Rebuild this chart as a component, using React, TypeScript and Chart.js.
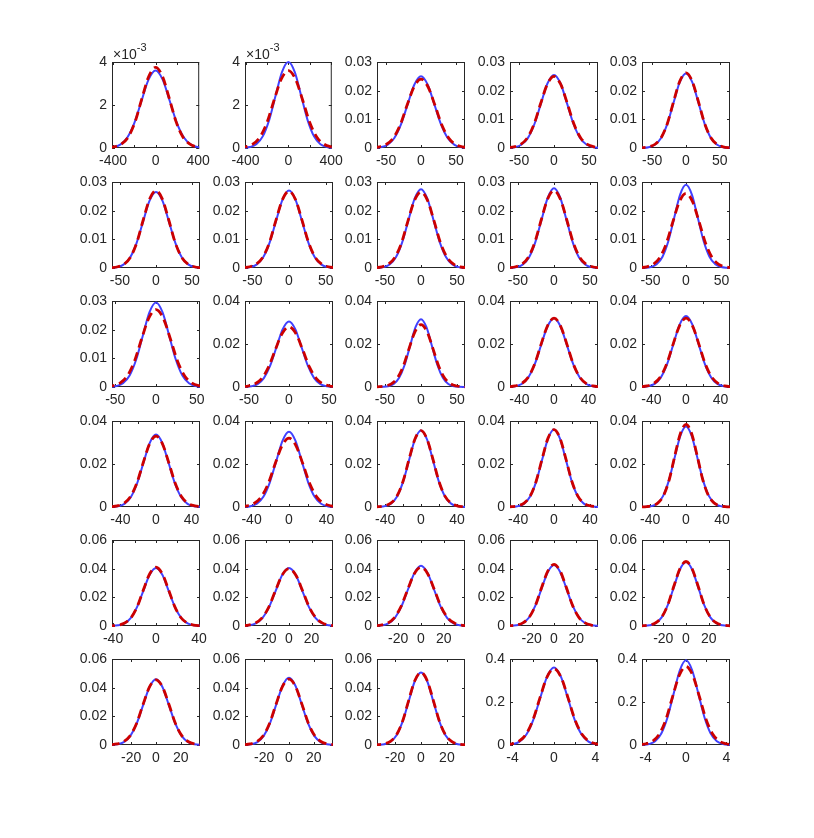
import React, { useEffect, useRef } from 'react';
import { Chart, registerables } from 'chart.js';
Chart.register(...registerables);

// standardized positions (in units of the panel's sd) at which the curves were read
const uSteps = [-5, -4.5, -4, -3.5, -3, -2.5, -2, -1.5, -1, -0.5, 0, 0.5, 1, 1.5, 2, 2.5, 3, 3.5, 4, 4.5, 5];
// normalized blue (fitted normal) profile
const blueProfile = [0, 0.00004, 0.00034, 0.0022, 0.0111, 0.0439, 0.1353, 0.3247, 0.6065, 0.8825, 1, 0.8825, 0.6065, 0.3247, 0.1353, 0.0439, 0.0111, 0.0022, 0.00034, 0.00004, 0];
// normalized red (kernel estimate) profile
const redProfile = [0, 0.0004, 0.0015, 0.005, 0.016, 0.05, 0.14, 0.33, 0.62, 0.89, 1, 0.89, 0.62, 0.33, 0.14, 0.05, 0.016, 0.005, 0.0015, 0.0004, 0];

// per panel (row-major, 6 rows x 5 columns)
const bluePeak = [
  0.0036, 0.0040, 0.025, 0.0255, 0.026,
  0.0265, 0.027, 0.0275, 0.0278, 0.029,
  0.0295, 0.0305, 0.0315, 0.032, 0.033,
  0.0337, 0.035, 0.0356, 0.036, 0.0374,
  0.0405, 0.0405, 0.042, 0.0425, 0.0447,
  0.0458, 0.047, 0.0506, 0.36, 0.394,
];
const redPeak = [
  0.00375, 0.0036, 0.024, 0.025, 0.0262,
  0.027, 0.0268, 0.0265, 0.027, 0.026,
  0.027, 0.028, 0.029, 0.032, 0.032,
  0.033, 0.032, 0.0355, 0.036, 0.0384,
  0.041, 0.040, 0.041, 0.043, 0.045,
  0.0455, 0.046, 0.0506, 0.355, 0.365,
];
// curve width (sd, in x units)
const blueSd = [
  133, 119.7, 19.2, 18.75, 18.4,
  18.05, 17.7, 17.4, 17.25, 16.55,
  16.2, 15.7, 15.15, 15.0, 14.55,
  14.2, 13.7, 13.4, 13.3, 12.8,
  11.8, 11.8, 11.4, 11.3, 10.7,
  10.4, 10.2, 9.45, 1.33, 1.22,
];
const xLimit = [
  410, 405, 63, 63, 65,
  61, 60, 61, 61, 62,
  54, 55, 61, 51, 51,
  49.5, 47, 49, 49, 49,
  41, 39, 38.5, 39.5, 38.7,
  35.5, 35.5, 34, 4.24, 4.35,
];
const yMax = [
  0.004, 0.004, 0.03, 0.03, 0.03,
  0.03, 0.03, 0.03, 0.03, 0.03,
  0.03, 0.04, 0.04, 0.04, 0.04,
  0.04, 0.04, 0.04, 0.04, 0.04,
  0.06, 0.06, 0.06, 0.06, 0.06,
  0.06, 0.06, 0.06, 0.4, 0.4,
];
const xTickKind = [
  'wide', 'wide', 'fifty', 'fifty', 'fifty',
  'fifty', 'fifty', 'fifty', 'fifty', 'fifty',
  'fifty', 'fifty', 'fifty', 'forty', 'forty',
  'forty', 'forty', 'forty', 'forty', 'forty',
  'forty', 'twenty', 'twenty', 'twenty', 'twenty',
  'twenty', 'twenty', 'twenty', 'four', 'four',
];
const xTicks: Record<string, number[]> = {
  wide: [-400, -200, 0, 200, 400],
  fifty: [-50, 0, 50],
  forty: [-40, -20, 0, 20, 40],
  twenty: [-20, 0, 20],
  four: [-4, -2, 0, 2, 4],
};
const xLabels: Record<string, number[]> = {
  wide: [-400, 0, 400],
  fifty: [-50, 0, 50],
  forty: [-40, 0, 40],
  twenty: [-20, 0, 20],
  four: [-4, 0, 4],
};
const yTicks: Record<string, number[]> = {
  '0.004': [0, 0.002, 0.004],
  '0.03': [0, 0.01, 0.02, 0.03],
  '0.04': [0, 0.02, 0.04],
  '0.06': [0, 0.02, 0.04, 0.06],
  '0.4': [0, 0.2, 0.4],
};
const yLabels: Record<string, string[]> = {
  '0.004': ['0', '2', '4'],
  '0.03': ['0', '0.01', '0.02', '0.03'],
  '0.04': ['0', '0.02', '0.04'],
  '0.06': ['0', '0.02', '0.04', '0.06'],
  '0.4': ['0', '0.2', '0.4'],
};

const colLeft = [112, 245, 377, 510, 642];
const rowTop = [62, 182, 301, 421, 540, 659];
const PW = 88;
const PH = 86;
const ML = 40, MR = 15, MT = 20, MB = 24;

const AXIS = '#262626';
const FONT = 'Liberation Sans, Arial, Helvetica, sans-serif';
const FS = 14;

function Panel({ idx }: { idx: number }) {
  const ref = useRef<HTMLCanvasElement>(null);
  useEffect(() => {
    const canvas = ref.current!;
    const kind = xTickKind[idx];
    const yKey = String(yMax[idx]);
    const xt = xTicks[kind];
    const xl = xLabels[kind];
    const yt = yTicks[yKey];
    const yl = yLabels[yKey];
    const sd = blueSd[idx];
    const sdRed = sd * bluePeak[idx] / redPeak[idx];
    const blueData = uSteps.map((u, k) => ({ x: u * sd, y: blueProfile[k] * bluePeak[idx] }));
    const redData = uSteps.map((u, k) => ({ x: u * sdRed, y: redProfile[k] * redPeak[idx] }));
    const showExp = yKey === '0.004';

    const boxPlugin = {
      id: 'box',
      beforeDatasetsDraw(chart: any) {
        const { ctx, chartArea: a, scales } = chart;
        ctx.save();
        ctx.strokeStyle = AXIS;
        ctx.lineWidth = 1;
        ctx.strokeRect(a.left + 0.5, a.top + 0.5, a.right - a.left - 1, a.bottom - a.top - 1);
        ctx.beginPath();
        const tl = 3;
        for (const v of xt) {
          const px = Math.round(scales.x.getPixelForValue(v)) + 0.5;
          ctx.moveTo(px, a.bottom);
          ctx.lineTo(px, a.bottom - tl);
          ctx.moveTo(px, a.top);
          ctx.lineTo(px, a.top + tl);
        }
        for (const v of yt) {
          const py = Math.round(scales.y.getPixelForValue(v)) + 0.5;
          ctx.moveTo(a.left, py);
          ctx.lineTo(a.left + tl, py);
          ctx.moveTo(a.right, py);
          ctx.lineTo(a.right - tl, py);
        }
        ctx.stroke();
        ctx.restore();
      },
      afterDraw(chart: any) {
        if (!showExp) return;
        const { ctx, chartArea: a } = chart;
        ctx.save();
        ctx.fillStyle = AXIS;
        ctx.textAlign = 'left';
        ctx.textBaseline = 'alphabetic';
        ctx.font = `14px ${FONT}`;
        ctx.fillText('\u00d710', a.left + 1, a.top - 3);
        const w = ctx.measureText('\u00d710').width;
        ctx.font = `11px ${FONT}`;
        ctx.fillText('-3', a.left + 1 + w, a.top - 11);
        ctx.restore();
      },
    };

    const chart = new Chart(canvas, {
      type: 'line',
      data: {
        datasets: [
          {
            data: redData,
            borderColor: '#cc0000',
            borderWidth: 2.8,
            borderDash: [9, 5],
            pointRadius: 0,
            fill: false,
            cubicInterpolationMode: 'monotone',
            clip: { left: 0, right: 0, top: 6, bottom: 2 } as any,
          },
          {
            data: blueData,
            borderColor: '#4040ff',
            borderWidth: 2,
            pointRadius: 0,
            fill: false,
            cubicInterpolationMode: 'monotone',
            clip: { left: 0, right: 0, top: 6, bottom: 2 } as any,
          },
        ],
      },
      options: {
        animation: false,
        responsive: false,
        devicePixelRatio: 1,
        layout: { padding: { left: 0, right: MR, top: MT, bottom: 0 } },
        plugins: { legend: { display: false }, tooltip: { enabled: false } },
        events: [],
        scales: {
          x: {
            type: 'linear',
            min: -xLimit[idx],
            max: xLimit[idx],
            grid: { display: false, drawTicks: false },
            border: { display: false },
            afterBuildTicks(scale: any) {
              scale.ticks = xt.map((v) => ({ value: v }));
            },
            afterFit(scale: any) {
              scale.height = MB;
            },
            ticks: {
              autoSkip: false,
              maxRotation: 0,
              padding: 5,
              color: AXIS,
              font: { family: FONT, size: FS },
              callback: (v: any) => (xl.includes(Number(v)) ? String(v) : ''),
            },
          },
          y: {
            type: 'linear',
            min: 0,
            max: yMax[idx],
            grid: { display: false, drawTicks: false },
            border: { display: false },
            afterBuildTicks(scale: any) {
              scale.ticks = yt.map((v) => ({ value: v }));
            },
            afterFit(scale: any) {
              scale.width = ML;
            },
            ticks: {
              autoSkip: false,
              padding: 5,
              color: AXIS,
              font: { family: FONT, size: FS },
              callback: (v: any) => {
                const k = yt.findIndex((t) => Math.abs(t - Number(v)) < 1e-12);
                return k >= 0 ? yl[k] : '';
              },
            },
          },
        },
      },
      plugins: [boxPlugin],
    } as any);
    return () => chart.destroy();
  }, [idx]);

  const r = Math.floor(idx / 5);
  const c = idx % 5;
  const W = ML + PW + MR;
  const H = MT + PH + MB;
  return (
    <canvas
      ref={ref}
      width={W}
      height={H}
      style={{ position: 'absolute', left: colLeft[c] - ML, top: rowTop[r] - MT, width: W, height: H }}
    />
  );
}

export default function App() {
  const panels = [];
  for (let i = 0; i < 30; i++) panels.push(<Panel key={i} idx={i} />);
  return (
    <div style={{ position: 'absolute', left: 0, top: 0, width: 814, height: 838, background: '#fff', overflow: 'hidden' }}>
      {panels}
    </div>
  );
}
